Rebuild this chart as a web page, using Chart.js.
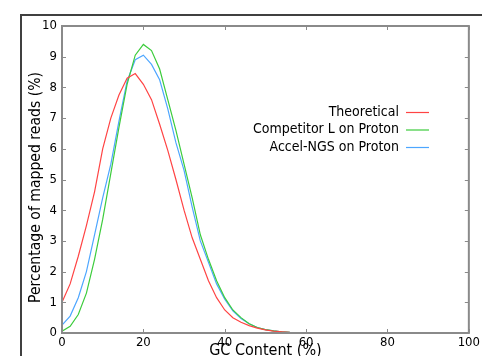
<!DOCTYPE html>
<html>
<head>
<meta charset="utf-8">
<script src="https://cdn.jsdelivr.net/npm/chart.js@4"></script>
<style>
  html, body { margin: 0; padding: 0; background: #fff; }
  #wrap { width: 482px; height: 356px; }
</style>
</head>
<body>
<div id="wrap"><canvas id="gc" width="482" height="356"></canvas></div>
<script>
// GC content bins (%)
const gcContent = [0, 2, 4, 6, 8, 10, 12, 14, 16, 18, 20, 22, 24, 26, 28, 30, 32,
  34, 36, 38, 40, 42, 44, 46, 48, 50, 52, 54, 56, 58, 60, 62, 64, 66];

// Percentage of mapped reads per series
const theoretical = [1.0, 1.6, 2.5, 3.5, 4.6, 6.0, 7.0, 7.75, 8.3, 8.45, 8.1, 7.6,
  6.8, 5.95, 5.0, 4.0, 3.1, 2.4, 1.7, 1.15, 0.75, 0.5, 0.35, 0.24, 0.16, 0.1,
  0.06, 0.04, 0.02, 0.01, 0];
const competitorL = [0.06, 0.22, 0.6, 1.3, 2.4, 3.7, 5.2, 6.7, 8.1, 9.05, 9.4,
  9.2, 8.6, 7.6, 6.6, 5.5, 4.4, 3.2, 2.4, 1.7, 1.15, 0.75, 0.5, 0.3, 0.18, 0.11,
  0.07, 0.04, 0.02, 0.01, 0];
const accelNgs = [0.26, 0.55, 1.15, 2.0, 3.2, 4.4, 5.5, 6.9, 8.2, 8.9, 9.05,
  8.75, 8.25, 7.3, 6.2, 5.3, 4.1, 3.0, 2.3, 1.6, 1.1, 0.72, 0.47, 0.3, 0.18,
  0.11, 0.07, 0.04, 0.02, 0.01, 0, 0, 0, 0];

const seriesNames = ['Theoretical', 'Competitor L on Proton', 'Accel-NGS on Proton'];
const seriesColors = ['#ff4444', '#3ccc3c', '#4da6ff'];

const xTicks = [0, 20, 40, 60, 80, 100];
const yTicks = [0, 1, 2, 3, 4, 5, 6, 7, 8, 9, 10];

const FONT = '"DejaVu Sans Condensed", "Liberation Sans", sans-serif';

function toPoints(values) {
  return values.map((v, i) => ({ x: gcContent[i], y: v }));
}

// Frame, inward ticks, legend and axis titles
const decorations = {
  id: 'decorations',
  afterDraw(chart) {
    const ctx = chart.ctx;
    const area = chart.chartArea;
    const xs = chart.scales.x;
    const ys = chart.scales.y;

    ctx.save();

    // outer figure frame
    ctx.strokeStyle = '#404040';
    ctx.lineWidth = 2;
    ctx.beginPath();
    ctx.moveTo(21, 356);
    ctx.lineTo(21, 15);
    ctx.lineTo(482, 15);
    ctx.stroke();

    // plot box
    ctx.strokeStyle = '#8a8a8a';
    ctx.lineWidth = 2;
    ctx.strokeRect(area.left, area.top, area.right - area.left, area.bottom - area.top);

    // inward ticks
    ctx.lineWidth = 1;
    ctx.beginPath();
    xTicks.forEach(v => {
      const px = Math.round(xs.getPixelForValue(v)) + 0.5;
      ctx.moveTo(px, area.bottom); ctx.lineTo(px, area.bottom - 4);
      ctx.moveTo(px, area.top); ctx.lineTo(px, area.top + 4);
    });
    yTicks.forEach(v => {
      const py = Math.round(ys.getPixelForValue(v)) + 0.5;
      ctx.moveTo(area.left, py); ctx.lineTo(area.left + 4, py);
      ctx.moveTo(area.right, py); ctx.lineTo(area.right - 4, py);
    });
    ctx.stroke();

    // legend
    ctx.font = '14px ' + FONT;
    ctx.fillStyle = '#000';
    ctx.textAlign = 'right';
    ctx.textBaseline = 'middle';
    seriesNames.forEach((name, i) => {
      const y = 112 + i * 17.5;
      ctx.fillText(name, 399, y);
      ctx.strokeStyle = seriesColors[i];
      ctx.lineWidth = 1.2;
      ctx.beginPath();
      ctx.moveTo(406, y + 0.5);
      ctx.lineTo(429, y + 0.5);
      ctx.stroke();
    });

    // axis titles
    ctx.font = '16px ' + FONT;
    ctx.fillStyle = '#000';
    ctx.textAlign = 'center';
    ctx.textBaseline = 'alphabetic';
    ctx.fillText('GC Content (%)', (area.left + area.right) / 2, 355);

    ctx.font = '15.6px ' + FONT;
    ctx.translate(40, (area.top + area.bottom) / 2 + 8);
    ctx.rotate(-Math.PI / 2);
    ctx.fillText('Percentage of mapped reads (%)', 0, 0);

    ctx.restore();
  }
};

new Chart(document.getElementById('gc'), {
  type: 'line',
  data: {
    datasets: [
      { label: seriesNames[0], data: toPoints(theoretical), borderColor: seriesColors[0] },
      { label: seriesNames[1], data: toPoints(competitorL), borderColor: seriesColors[1] },
      { label: seriesNames[2], data: toPoints(accelNgs), borderColor: seriesColors[2] }
    ].map(ds => Object.assign(ds, {
      borderWidth: 1.2,
      pointRadius: 0,
      tension: 0,
      fill: false
    }))
  },
  options: {
    responsive: false,
    animation: false,
    layout: { padding: { top: 26, right: 13, left: 0, bottom: 0 } },
    plugins: {
      legend: { display: false },
      tooltip: { enabled: false }
    },
    scales: {
      x: {
        type: 'linear',
        min: 0,
        max: 100,
        afterFit: s => { s.height = 23; },
        afterBuildTicks: s => { s.ticks = xTicks.map(v => ({ value: v })); },
        grid: { display: false, drawTicks: false },
        border: { display: false },
        ticks: {
          color: '#000',
          padding: 2,
          maxRotation: 0,
          autoSkip: false,
          font: { family: FONT, size: 13 }
        }
      },
      y: {
        min: 0,
        max: 10,
        afterFit: s => { s.width = 62; },
        afterBuildTicks: s => { s.ticks = yTicks.map(v => ({ value: v })); },
        grid: { display: false, drawTicks: false },
        border: { display: false },
        ticks: {
          color: '#000',
          padding: 5,
          autoSkip: false,
          font: { family: FONT, size: 13 }
        }
      }
    }
  },
  plugins: [decorations]
});
</script>
</body>
</html>
